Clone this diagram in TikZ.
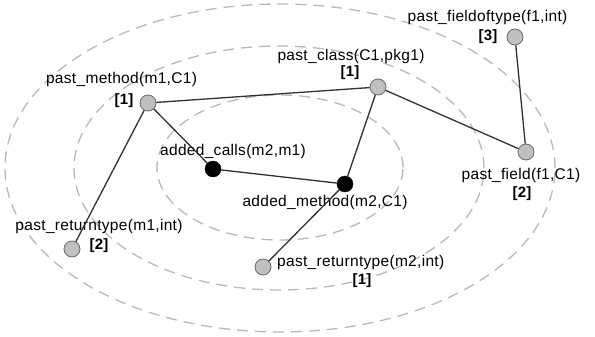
\documentclass[tikz,border=0pt]{standalone}
\usepackage{fontspec}
\setmainfont{Liberation Sans}[LetterSpace=2]
\definecolor{ringc}{RGB}{185,185,185}
\definecolor{edgec}{RGB}{50,50,50}
\definecolor{nodefill}{RGB}{192,192,192}
\definecolor{nodeline}{RGB}{105,105,105}
\tikzset{
  ring/.style={draw=ringc, line width=1.3pt, dash pattern=on 11pt off 7pt},
  pastnode/.style={circle, fill=nodefill, draw=nodeline, line width=0.8pt, minimum size=16pt, inner sep=0pt},
  addednode/.style={circle, fill=black, draw=black, minimum size=16pt, inner sep=0pt},
  lbl/.style={inner sep=0pt, font=\fontsize{15.5}{18}\selectfont},
  num/.style={inner sep=0pt, font=\fontsize{15}{18}\selectfont\bfseries},
  link/.style={draw=edgec, line width=1.3pt}
}
\begin{document}
\begin{tikzpicture}[x=1pt,y=-1pt]
\useasboundingbox[fill=white] (0,0) rectangle (595,337);
% concentric rings
\draw[ring] (280,167.5) ellipse [x radius=123pt, y radius=72.5pt];
\draw[ring] (279,168) ellipse [x radius=205pt, y radius=122pt];
\draw[ring] (280,168) ellipse [x radius=275pt, y radius=164pt];
% nodes
\node[pastnode] (pm) at (148,103) {};
\node[lbl] (pmL) at (121.5,79) {past\_method(m1,C1)};
\node[num] (pmN) at (124,101) {[1]};

\node[pastnode] (pc) at (378,87) {};
\node[lbl] (pcL) at (351,56) {past\_class(C1,pkg1)};
\node[num] (pcN) at (350,73) {[1]};

\node[pastnode] (pft) at (515,37) {};
\node[lbl] (pftL) at (487.5,17) {past\_fieldoftype(f1,int)};
\node[num] (pftN) at (488,37) {[3]};

\node[pastnode] (pf) at (526,152) {};
\node[lbl] (pfL) at (521,175) {past\_field(f1,C1)};
\node[num] (pfN) at (522,194) {[2]};

\node[addednode] (ac) at (213,169) {};
\node[lbl] (acL) at (233,151) {added\_calls(m2,m1)};

\node[addednode] (am) at (345,184) {};
\node[lbl] (amL) at (325,202) {added\_method(m2,C1)};

\node[pastnode] (pr1) at (72,249) {};
\node[lbl] (pr1L) at (99,226) {past\_returntype(m1,int)};
\node[num] (pr1N) at (99,246) {[2]};

\node[pastnode] (pr2) at (263,267) {};
\node[lbl, anchor=west] (pr2L) at (277,262) {past\_returntype(m2,int)};
\node[num] (pr2N) at (362,281) {[1]};
% connectors
\draw[link] (pm) -- (pc);
\draw[link] (pm) -- (pr1);
\draw[link] (pm) -- (ac);
\draw[link] (ac) -- (am);
\draw[link] (pc) -- (am);
\draw[link] (pc) -- (pf);
\draw[link] (pft) -- (pf);
\draw[link] (am) -- (pr2);
\end{tikzpicture}
\end{document}
